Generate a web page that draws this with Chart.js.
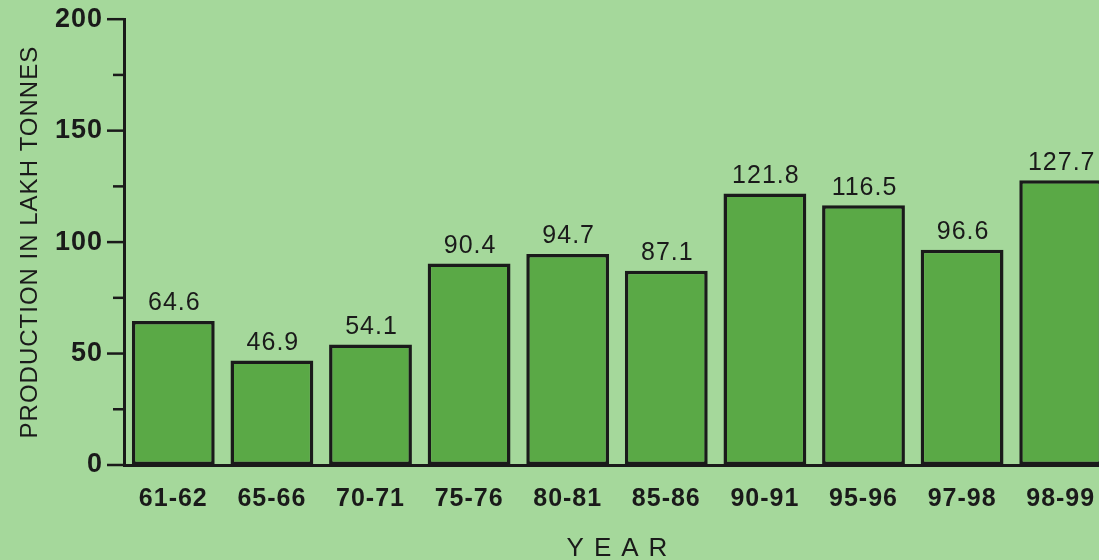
<!DOCTYPE html>
<html>
<head>
<meta charset="utf-8">
<script src="https://cdn.jsdelivr.net/npm/chart.js@4"></script>
<style>
  html, body { margin: 0; padding: 0; overflow: hidden; background: #a5d89b; }
  #wrap { width: 1112px; height: 578px; margin-top: -18px; }
</style>
</head>
<body>
<div id="wrap"><canvas id="graph" width="1112" height="578"></canvas></div>
<script>
// dados do gráfico
const years = ['61-62', '65-66', '70-71', '75-76', '80-81', '85-86', '90-91', '95-96', '97-98', '98-99'];
const production = [64.6, 46.9, 54.1, 90.4, 94.7, 87.1, 121.8, 116.5, 96.6, 127.7];
const yMax = 200;
const majorStep = 50;
const minorStep = 25;

const ink = '#1a1a1a';
const font = 'Liberation Sans, Arial, sans-serif';

// espaçamento entre letras, como no original
const spacingPlugin = {
    id: 'spacing',
    beforeDraw(chart) {
        chart.ctx.letterSpacing = '1px';
    }
};

// marcas do eixo y (maiores a cada 50, menores a cada 25)
const tickMarks = {
    id: 'tickMarks',
    afterDraw(chart) {
        const ctx = chart.ctx;
        const y = chart.scales.y;
        const left = chart.chartArea.left;
        ctx.save();
        ctx.strokeStyle = ink;
        ctx.lineWidth = 2.5;
        y.ticks.forEach(t => {
            const py = y.getPixelForValue(t.value);
            const len = t.value % majorStep === 0 ? 17 : 11;
            ctx.beginPath();
            ctx.moveTo(left - len, py);
            ctx.lineTo(left, py);
            ctx.stroke();
        });
        ctx.restore();
    }
};

// valores em cima das barras
const barLabels = {
    id: 'barLabels',
    afterDatasetsDraw(chart) {
        const ctx = chart.ctx;
        const meta = chart.getDatasetMeta(0);
        ctx.save();
        ctx.fillStyle = ink;
        ctx.font = '25px ' + font;
        ctx.textAlign = 'center';
        ctx.textBaseline = 'bottom';
        meta.data.forEach((bar, i) => {
            ctx.fillText(production[i].toFixed(1), bar.x + 1, bar.y - 5);
        });
        ctx.restore();
    }
};

// título do eixo x com letras espaçadas
const yearTitle = {
    id: 'yearTitle',
    afterDraw(chart) {
        const ctx = chart.ctx;
        const a = chart.chartArea;
        ctx.save();
        ctx.letterSpacing = '10px';
        ctx.fillStyle = ink;
        ctx.font = '26px ' + font;
        ctx.textAlign = 'center';
        ctx.textBaseline = 'alphabetic';
        ctx.fillText('YEAR', (a.left + a.right) / 2 + 5, chart.scales.x.bottom - 4);
        ctx.restore();
    }
};

var ctx = document.getElementById('graph').getContext('2d');
var myChart = new Chart(ctx, {
    type: 'bar',
    data: {
        labels: years,
        datasets: [{
            data: production,
            backgroundColor: '#5aa946',
            borderColor: ink,
            borderWidth: 3.5,
            borderSkipped: false,
            barPercentage: 0.84,
            categoryPercentage: 1
        }]
    },
    options: {
        responsive: false,
        animation: false,
        devicePixelRatio: 1,
        layout: { padding: { top: 1, right: 2, left: 0, bottom: 0 } },
        plugins: {
            legend: { display: false },
            tooltip: { enabled: false }
        },
        scales: {
            x: {
                grid: { display: false, drawTicks: false },
                border: { display: true, color: ink, width: 3 },
                ticks: {
                    color: ink,
                    padding: 19,
                    maxRotation: 0,
                    autoSkip: false,
                    font: { family: font, size: 25, weight: 'bold' }
                },
                afterFit(scale) { scale.height = 95; }
            },
            y: {
                min: 0,
                max: yMax,
                grid: { display: false, drawTicks: false },
                border: { display: true, color: ink, width: 3 },
                ticks: {
                    stepSize: minorStep,
                    color: ink,
                    padding: 21,
                    font: { family: font, size: 27, weight: 'bold' },
                    callback: v => v % majorStep === 0 ? v : ''
                },
                title: {
                    display: true,
                    text: 'PRODUCTION IN LAKH TONNES',
                    color: ink,
                    font: { family: font, size: 24 },
                    padding: { top: 16, bottom: 0 }
                },
                afterFit(scale) { scale.width = 124; }
            }
        }
    },
    plugins: [spacingPlugin, tickMarks, barLabels, yearTitle]
});
</script>
</body>
</html>
